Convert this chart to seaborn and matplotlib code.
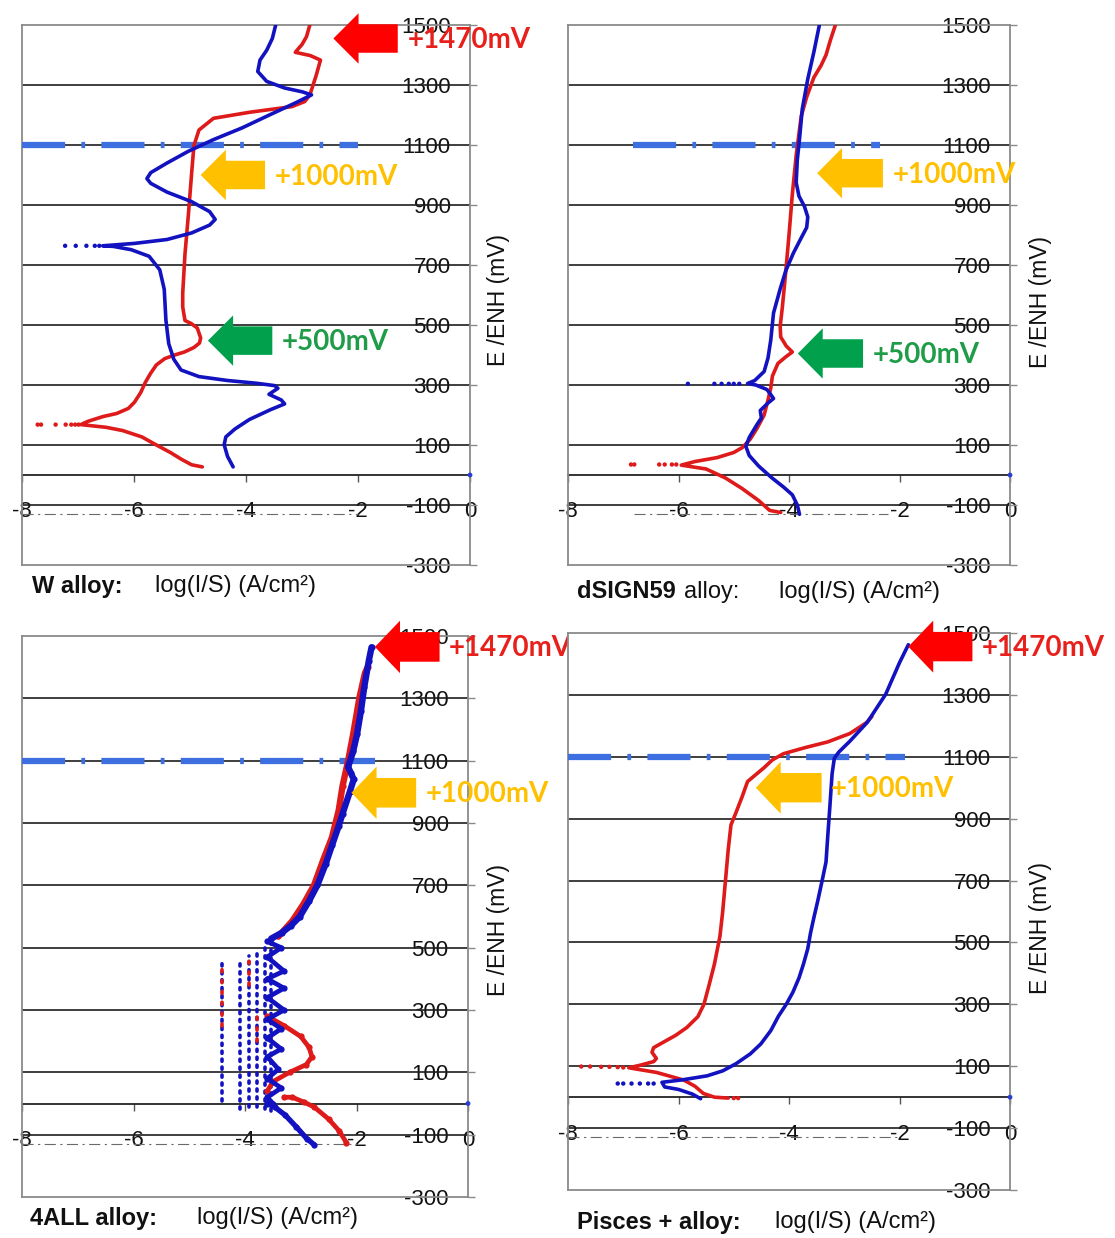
import seaborn as sns
import matplotlib.pyplot as plt
from matplotlib.patches import FancyArrow

# ---- data (x = log(I/S), y = E mV) ----

# W alloy
W_RED_X = [-4.78, -4.97, -5.15, -5.35, -5.6, -5.86, -6.2, -6.5, -6.95, -6.82, -6.55, -6.31,
           -6.1, -5.99, -5.88, -5.8, -5.7, -5.6, -5.45, -5.29, -5.1, -4.93, -4.83, -4.81,
           -4.87, -4.98, -5.09, -5.13, -5.13, -5.09, -5.03, -4.97, -4.93, -4.84, -4.58,
           -3.94, -3.18, -2.95, -2.86, -2.75, -2.67, -2.85, -3.12, -3.0, -2.92, -2.86]
W_RED_Y = [27, 34, 52, 75, 100, 127, 148, 159, 168, 179, 195, 205, 222, 243, 275, 308, 340,
           367, 388, 399, 410, 425, 440, 457, 490, 505, 515, 560, 606, 736, 865, 1008, 1098,
           1150, 1189, 1209, 1228, 1245, 1267, 1330, 1383, 1398, 1409, 1435, 1461, 1500]
W_RED_DOTS_X = [-7.72, -7.66, -7.4, -7.22, -7.12, -7.05, -6.99]
W_RED_DOTS_Y = [168, 168, 168, 168, 168, 168, 168]
W_BLUE_X = [-4.23, -4.33, -4.39, -4.36, -4.2, -3.94, -3.56, -3.31, -3.37, -3.59, -3.43, -3.49,
            -3.82, -4.33, -4.84, -5.16, -5.29, -5.38, -5.43, -5.46, -5.54, -5.73, -6.05,
            -6.37, -6.56, -5.99, -5.41, -4.97, -4.65, -4.55, -4.65, -4.97, -5.41, -5.7,
            -5.77, -5.7, -5.41, -5.03, -4.58, -4.07, -3.56, -3.11, -2.83, -2.99, -3.31,
            -3.63, -3.79, -3.75, -3.63, -3.53, -3.47]
W_BLUE_Y = [27, 62, 101, 127, 153, 185, 218, 237, 250, 269, 289, 298, 306, 315, 328, 350,
            386, 438, 516, 619, 684, 729, 751, 762, 764, 772, 785, 807, 833, 852, 878, 911,
            943, 972, 988, 1008, 1040, 1079, 1118, 1157, 1202, 1241, 1267, 1277, 1290, 1312,
            1345, 1383, 1416, 1455, 1500]
W_BLUE_DOTS_X = [-7.23, -7.04, -6.85, -6.7, -6.62]
W_BLUE_DOTS_Y = [764, 764, 764, 764, 764]

# dSIGN59 alloy
D_RED_X = [-4.15, -4.35, -4.55, -4.85, -5.15, -5.5, -5.95, -5.7, -5.3, -5.0, -4.84, -4.7,
           -4.58, -4.45, -4.38, -4.33, -4.3, -4.2, -4.05, -3.94, -4.05, -4.15, -4.16, -4.12,
           -4.06, -4.0, -3.94, -3.87, -3.78, -3.68, -3.55, -3.42, -3.33, -3.25, -3.16]
D_RED_Y = [-125, -118, -85, -45, -10, 20, 33, 45, 58, 75, 92, 120, 155, 200, 250, 290, 330,
           372, 395, 410, 430, 460, 495, 560, 675, 800, 935, 1065, 1195, 1260, 1325, 1365,
           1400, 1450, 1500]
D_RED_DOTS_X = [-6.86, -6.8, -6.35, -6.25, -6.12, -6.04]
D_RED_DOTS_Y = [35, 35, 35, 35, 35, 35]
D_BLUE_X = [-3.81, -3.85, -3.94, -4.1, -4.32, -4.55, -4.72, -4.78, -4.72, -4.58, -4.5, -4.52,
            -4.38, -4.28, -4.33, -4.4, -4.6, -4.75, -4.62, -4.45, -4.38, -4.33, -4.28, -4.16,
            -4.06, -3.92, -3.78, -3.68, -3.66, -3.72, -3.82, -3.87, -3.85, -3.81, -3.76,
            -3.66, -3.55, -3.45]
D_BLUE_Y = [-131, -100, -66, -40, -8, 30, 65, 95, 125, 168, 190, 215, 240, 255, 268, 285,
            300, 305, 315, 345, 390, 450, 540, 620, 680, 740, 790, 825, 860, 895, 930, 975,
            1050, 1120, 1220, 1320, 1410, 1500]
D_BLUE_DOTS_X = [-5.83, -5.35, -5.22, -5.09, -5.0, -4.9]
D_BLUE_DOTS_Y = [304, 304, 304, 304, 304, 304]

# 4ALL alloy
A_BLUE_X = [-3.53, -3.34, -3.18, -3.02, -2.85, -2.7, -2.55, -2.44, -2.32, -2.25, -2.12,
            -2.05, -2.1, -2.15, -2.06, -1.99, -1.92, -1.86, -1.78, -1.73]
A_BLUE_Y = [529, 548, 570, 599, 650, 701, 770, 828, 890, 930, 1000, 1040, 1060, 1080, 1130,
            1185, 1260, 1337, 1420, 1464]
A_RED_X = [-3.4, -3.15, -2.95, -2.76, -2.6, -2.44, -2.32, -2.25, -2.15, -2.06, -1.95, -1.85,
           -1.8]
A_RED_Y = [536, 586, 640, 701, 780, 854, 940, 1019, 1100, 1185, 1300, 1380, 1400]
A_BLUE_ZIG_X = [-3.6, -3.35, -3.6, -3.3, -3.6, -3.3, -3.6, -3.3, -3.6, -3.35, -3.6, -3.35,
                -3.6, -3.4, -3.6, -3.35, -3.6, -3.5]
A_BLUE_ZIG_Y = [520, 500, 470, 425, 400, 370, 340, 300, 270, 240, 210, 175, 150, 110, 80,
                50, 20, 0]
A_RED_BUMP_X = [-3.6, -3.3, -3.0, -2.85, -2.8, -2.9, -3.2, -3.5, -3.6]
A_RED_BUMP_Y = [280, 250, 215, 180, 150, 125, 100, 70, 40]
A_RED_TAIL_X = [-3.3, -3.15, -2.95, -2.76, -2.5, -2.31, -2.18]
A_RED_TAIL_Y = [20, 20, 5, -11, -50, -88, -126]
A_BLUE_TAIL_X = [-3.6, -3.47, -3.28, -3.08, -2.89, -2.76]
A_BLUE_TAIL_Y = [0, -11, -37, -75, -113, -132]
A_COL_X = [-4.41, -4.09, -3.93, -3.78, -3.65, -3.53]
A_COL_Y0 = [8, -18, -11, -11, -18, -25]
A_COL_Y1 = [453, 453, 472, 485, 510, 529]
A_RED_COL_X = [-4.41, -3.93, -3.78]
A_RED_COL_Y0 = [250, 380, 200]
A_RED_COL_Y1 = [430, 480, 300]

# Pisces + alloy
P_RED_X = [-5.1, -5.35, -5.55, -5.7, -5.9, -6.1, -6.4, -6.9, -6.7, -6.45, -6.4, -6.48,
           -6.45, -6.3, -6.05, -5.85, -5.65, -5.54, -5.45, -5.35, -5.25, -5.2, -5.15, -5.1,
           -5.05, -4.97, -4.85, -4.75, -4.65, -4.45, -4.3, -4.1, -3.7, -3.3, -2.9, -2.6, -2.5]
P_RED_Y = [-3, 0, 12, 35, 55, 65, 80, 95, 103, 115, 125, 145, 160, 175, 200, 225, 260, 300,
           360, 430, 520, 600, 700, 800, 880, 915, 970, 1020, 1035, 1065, 1090, 1110, 1130,
           1148, 1175, 1210, 1230]
P_RED_DOTS_X = [-7.76, -7.6, -7.4, -7.25, -7.1, -7.0, -5.0, -4.92]
P_RED_DOTS_Y = [99, 99, 98, 98, 97, 96, -3, -3]
P_BLUE_X = [-5.6, -5.75, -6.0, -6.25, -6.3, -5.93, -5.48, -5.2, -4.96, -4.7, -4.51, -4.33,
            -4.19, -4.05, -3.93, -3.82, -3.74, -3.66, -3.61, -3.55, -3.48, -3.4, -3.33,
            -3.3, -3.26, -3.22, -3.18, -3.1, -2.9, -2.58, -2.25, -2.0, -1.84]
P_BLUE_Y = [-5, 10, 25, 33, 48, 56, 69, 85, 108, 140, 172, 215, 262, 300, 339, 385, 429,
            480, 531, 580, 634, 700, 760, 840, 940, 1045, 1095, 1115, 1150, 1212, 1302, 1404,
            1462]
P_BLUE_DOTS_X = [-7.1, -7.0, -6.85, -6.7, -6.55, -6.45]
P_BLUE_DOTS_Y = [44, 44, 44, 44, 44, 44]

Y_TICKS = [1500, 1300, 1100, 900, 700, 500, 300, 100, -100, -300]
GRID_Y = [1300, 1100, 900, 700, 500, 300, 100, -100]
X_TICKS = [-8, -6, -4, -2, 0]
PASSIVE_E = 1100
BASE_E = -130

# per panel: blue band extent, base line extent, arrows (tip, tail, E, kind)
BAND = {"W": (-8, -2.0), "D": (-6.82, -2.35), "A": (-8, -1.67), "P": (-8, -1.9)}
BASE = {"W": (-8, -2.0), "D": (-6.8, -2.2), "A": (-8, -2.0), "P": (-8, -2.0)}
ARROWS = {
    "W": [(-2.44, -1.29, 1455, "r"), (-4.81, -3.66, 1000, "o"), (-4.68, -3.53, 448, "g")],
    "D": [(-3.49, -2.30, 1006, "o"), (-3.84, -2.66, 405, "g")],
    "A": [(-1.67, -0.51, 1465, "r"), (-2.09, -0.93, 997, "o")],
    "P": [(-1.84, -0.68, 1456, "r"), (-4.6, -3.41, 1000, "o")],
}
ARROW_COL = {"r": "#ff0000", "o": "#ffc000", "g": "#00a04c"}
ARROW_TXT = {"r": "+1470mV", "o": "+1000mV", "g": "+500mV"}
TXT_COL = {"r": "#e8201c", "o": "#ffc000", "g": "#1f9c48"}

RED = "#de1a1a"
BLUE = "#1212c0"

sns.set_theme(style="white")
plt.rcParams["font.family"] = ["Liberation Sans", "DejaVu Sans"]

fig = plt.figure(figsize=(11.15, 12.38), dpi=100)
W = 1115.0
H = 1238.0


def px_axes(left, right, top, bottom):
    return fig.add_axes([left / W, 1 - bottom / H, (right - left) / W, (bottom - top) / H])


def curve(ax, xs, ys, color, lw=2.6, marker=None):
    sns.lineplot(x=xs, y=ys, sort=False, estimator=None, color=color, lw=lw, ax=ax,
                 marker=marker, markersize=4.5, markeredgewidth=0, zorder=5)


def dots(ax, xs, ys, color, s=10):
    sns.scatterplot(x=xs, y=ys, color=color, s=s, edgecolor="none", ax=ax, zorder=5)


def frame(ax, key):
    ax.set_xlim(-8, 0)
    ax.set_ylim(-300, 1500)
    for s in ["left", "top", "bottom", "right"]:
        ax.spines[s].set_color("#8a8a8a")
        ax.spines[s].set_linewidth(1.3)
    for g in GRID_Y:
        ax.axhline(g, color="#1e1e1e", lw=1.2, zorder=1)
    ax.set_xticks([])
    ax.yaxis.tick_right()
    ax.set_yticks(Y_TICKS)
    ax.set_yticklabels([str(t) for t in Y_TICKS])
    ax.tick_params(axis="y", direction="out", length=5, width=1, color="#8a8a8a",
                   pad=-19, labelsize=16, labelcolor="#111111")
    for lbl in ax.get_yticklabels():
        lbl.set_horizontalalignment("right")
    ax.set_xlabel("")
    ax.set_ylabel("")
    # x axis crossing at E = 0
    sec = ax.secondary_xaxis(300 / 1800)
    sec.set_xticks(X_TICKS)
    sec.set_xticklabels([str(t) for t in X_TICKS])
    sec.tick_params(axis="x", direction="out", length=5, width=1, color="#555555",
                    pad=14, labelsize=16, labelcolor="#111111")
    for s in ["top", "bottom"]:
        sec.spines[s].set_color("#111111")
        sec.spines[s].set_linewidth(1.2)
    # passive-range marker and base line
    b0, b1 = BAND[key]
    ax.plot([b0, b1], [PASSIVE_E, PASSIVE_E], color="#3d6fe0", lw=4.5,
            ls=(0, (6.9, 2.6, 0.6, 2.6)), solid_capstyle="butt", zorder=3)
    c0, c1 = BASE[key]
    ax.plot([c0, c1], [BASE_E, BASE_E], color="#6a6a6a", lw=0.8,
            ls=(0, (10, 4, 2, 4)), zorder=3)
    dots(ax, [0], [0], "#2a3fd0", s=12)
    ax.collections[-1].set_clip_on(False)
    for tip, tail, e, k in ARROWS[key]:
        ax.add_patch(FancyArrow(tail, e, tip - tail, 0, width=95, head_width=168,
                                head_length=0.45, length_includes_head=True,
                                color=ARROW_COL[k], clip_on=False, zorder=8, lw=0))
        ax.text(tail + 0.17, e - 5, ARROW_TXT[k], color=TXT_COL[k], fontsize=20,
                fontweight="bold", family=["Lato", "DejaVu Sans"], ha="left",
                va="center", zorder=9, clip_on=False)


# W alloy
ax1 = px_axes(22, 470, 25, 565)
curve(ax1, W_RED_X, W_RED_Y, RED)
curve(ax1, W_BLUE_X, W_BLUE_Y, BLUE)
dots(ax1, W_RED_DOTS_X, W_RED_DOTS_Y, RED)
dots(ax1, W_BLUE_DOTS_X, W_BLUE_DOTS_Y, BLUE)
frame(ax1, "W")

# dSIGN59 alloy
ax2 = px_axes(568, 1010, 25, 565)
curve(ax2, D_RED_X, D_RED_Y, RED)
curve(ax2, D_BLUE_X, D_BLUE_Y, BLUE)
dots(ax2, D_RED_DOTS_X, D_RED_DOTS_Y, RED)
dots(ax2, D_BLUE_DOTS_X, D_BLUE_DOTS_Y, BLUE)
frame(ax2, "D")

# 4ALL alloy
ax3 = px_axes(22, 468, 636, 1197)
for x, y0, y1 in zip(A_COL_X, A_COL_Y0, A_COL_Y1):
    ax3.plot([x, x], [y0, y1], color=BLUE, lw=2.6, ls=(0, (0.6, 1.6)),
             dash_capstyle="round", zorder=4)
for x, y0, y1 in zip(A_RED_COL_X, A_RED_COL_Y0, A_RED_COL_Y1):
    ax3.plot([x, x], [y0, y1], color=RED, lw=2.6, ls=(0, (0.6, 2.4)),
             dash_capstyle="round", zorder=4)
curve(ax3, A_RED_BUMP_X, A_RED_BUMP_Y, RED, lw=3.4, marker="o")
curve(ax3, A_RED_TAIL_X, A_RED_TAIL_Y, RED, lw=3.4, marker="o")
curve(ax3, A_BLUE_ZIG_X, A_BLUE_ZIG_Y, BLUE, lw=3.4, marker="o")
curve(ax3, A_BLUE_TAIL_X, A_BLUE_TAIL_Y, BLUE, lw=3.8, marker="o")
curve(ax3, A_RED_X, A_RED_Y, RED, lw=4.6, marker="o")
curve(ax3, A_BLUE_X, A_BLUE_Y, BLUE, lw=4.6, marker="o")
frame(ax3, "A")

# Pisces + alloy
ax4 = px_axes(568, 1010, 633, 1190)
curve(ax4, P_RED_X, P_RED_Y, RED)
curve(ax4, P_BLUE_X, P_BLUE_Y, BLUE)
dots(ax4, P_RED_DOTS_X, P_RED_DOTS_Y, RED)
dots(ax4, P_BLUE_DOTS_X, P_BLUE_DOTS_Y, BLUE)
frame(ax4, "P")

# axis titles and captions
for xpx, ypx in [(499, 300), (1040, 302), (499, 930), (1040, 928)]:
    fig.text(xpx / W, 1 - ypx / H, "E /ENH (mV)", rotation=90, ha="center", va="center",
             fontsize=16.5, color="#111111")

cap = dict(fontsize=17, va="center", color="#111111")
fig.text(32 / W, 1 - 586 / H, "W alloy:", fontweight="bold", **cap)
fig.text(155 / W, 1 - 586 / H, "log(I/S) (A/cm²)", **cap)
fig.text(577 / W, 1 - 592 / H, "dSIGN59", fontweight="bold", **cap)
fig.text(684 / W, 1 - 592 / H, "alloy:", **cap)
fig.text(779 / W, 1 - 592 / H, "log(I/S) (A/cm²)", **cap)
fig.text(30 / W, 1 - 1218 / H, "4ALL alloy:", fontweight="bold", **cap)
fig.text(197 / W, 1 - 1218 / H, "log(I/S) (A/cm²)", **cap)
fig.text(577 / W, 1 - 1222 / H, "Pisces + alloy:", fontweight="bold", **cap)
fig.text(775 / W, 1 - 1222 / H, "log(I/S) (A/cm²)", **cap)

fig.savefig("out.png", dpi=100, facecolor="white")
